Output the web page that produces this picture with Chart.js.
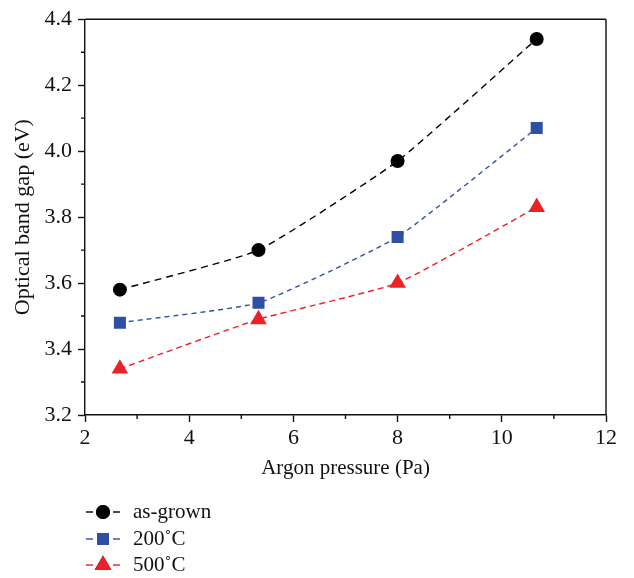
<!DOCTYPE html>
<html>
<head>
<meta charset="utf-8">
<script src="https://cdn.jsdelivr.net/npm/chart.js@4/dist/chart.umd.min.js"></script>
<style>
  html, body { margin: 0; padding: 0; background: #fff; }
  canvas { display: block; }
</style>
</head>
<body>
<canvas id="c" width="634" height="578"></canvas>
<script>
// Argon pressure (Pa) and optical band gap (eV)
const pressure = [2.67, 5.33, 8.0, 10.67];
const asGrown  = [3.58, 3.70, 3.97, 4.34];
const anneal200 = [3.48, 3.54, 3.74, 4.07];
const anneal500 = [3.34, 3.49, 3.60, 3.83];
const seriesNames = ['as-grown', '200\u02DAC', '500\u02DAC'];
const xTicks = [2, 4, 6, 8, 10, 12];
const yTicks = [3.2, 3.4, 3.6, 3.8, 4.0, 4.2, 4.4];

const FONT = "'Liberation Serif', 'DejaVu Serif', serif";
const toPoints = ys => pressure.map((x, i) => ({ x, y: ys[i] }));

// Minor ticks halfway between the major ones, top/right frame, and the legend
const extras = {
  id: 'extras',
  afterDraw(chart) {
    const { ctx, chartArea: a } = chart;
    const xs = chart.scales.x, ys = chart.scales.y;
    ctx.save();
    ctx.strokeStyle = '#111';
    ctx.lineWidth = 1.4;
    ctx.beginPath();
    // frame
    ctx.moveTo(a.left, a.top); ctx.lineTo(a.right, a.top);
    ctx.moveTo(a.right, a.top); ctx.lineTo(a.right, a.bottom);
    // minor ticks
    for (let i = 0; i < xs.ticks.length - 1; i++) {
      const v = (xs.ticks[i].value + xs.ticks[i + 1].value) / 2;
      const p = xs.getPixelForValue(v);
      ctx.moveTo(p, a.bottom); ctx.lineTo(p, a.bottom + 4);
    }
    for (let i = 0; i < ys.ticks.length - 1; i++) {
      const v = (ys.ticks[i].value + ys.ticks[i + 1].value) / 2;
      const p = ys.getPixelForValue(v);
      ctx.moveTo(a.left, p); ctx.lineTo(a.left - 4, p);
    }
    ctx.stroke();

    // legend
    const rowY = [512, 539, 565];
    chart.data.datasets.forEach((ds, i) => {
      const y = rowY[i];
      const cx = 103;
      ctx.save();
      ctx.globalAlpha = 0.7;
      ctx.strokeStyle = ds.borderColor;
      ctx.lineWidth = 2;
      ctx.beginPath();
      ctx.moveTo(86, y); ctx.lineTo(93, y);
      ctx.moveTo(113, y); ctx.lineTo(120, y);
      ctx.stroke();
      ctx.restore();
      Chart.helpers.drawPoint(ctx, {
        pointStyle: ds.pointStyle,
        radius: ds.pointRadius,
        borderWidth: 0
      }, cx, y);
      ctx.fillStyle = ds.pointBackgroundColor;
      ctx.fill();
      ctx.fillStyle = '#111';
      ctx.font = '21px ' + FONT;
      ctx.textBaseline = 'middle';
      ctx.textAlign = 'left';
      ctx.fillText(ds.label, 133, y);
    });
    ctx.restore();
  }
};

const mk = (label, ys, color, style, r, dash) => ({
  label,
  data: toPoints(ys),
  borderColor: color,
  backgroundColor: color,
  pointBackgroundColor: color,
  pointBorderColor: color,
  pointBorderWidth: 0,
  pointStyle: style,
  pointRadius: r,
  pointHoverRadius: r,
  borderWidth: 1.4,
  borderDash: dash,
  tension: 0.14,
  fill: false,
  showLine: true
});

new Chart(document.getElementById('c'), {
  type: 'line',
  data: {
    datasets: [
      mk(seriesNames[0], asGrown, '#000000', 'circle', 7, [7, 5]),
      mk(seriesNames[1], anneal200, '#2e4fa3', 'rect', 8.5, [5, 4]),
      mk(seriesNames[2], anneal500, '#ee2027', 'triangle', 9.6, [6, 4])
    ]
  },
  options: {
    responsive: false,
    animation: false,
    events: [],
    layout: { padding: { top: 15, right: 28, left: 0, bottom: 93 } },
    plugins: { legend: { display: false }, tooltip: { enabled: false } },
    scales: {
      x: {
        type: 'linear',
        min: xTicks[0],
        max: xTicks[xTicks.length - 1],
        afterBuildTicks: s => { s.ticks = xTicks.map(v => ({ value: v })); },
        afterFit: s => { s.height = 70; },
        ticks: {
          color: '#111',
          font: { family: FONT, size: 22 },
          padding: 3,
          maxRotation: 0,
          callback: v => String(v)
        },
        grid: { display: true, drawOnChartArea: false, drawTicks: true, tickLength: 7, tickColor: '#111', tickWidth: 1.4 },
        border: { display: true, color: '#111', width: 1.4 },
        title: {
          display: true,
          text: 'Argon pressure (Pa)',
          color: '#111',
          font: { family: FONT, size: 21 },
          padding: { top: 0, bottom: 4 }
        }
      },
      y: {
        type: 'linear',
        min: yTicks[0],
        max: yTicks[yTicks.length - 1],
        afterBuildTicks: s => { s.ticks = yTicks.map(v => ({ value: v })); },
        afterFit: s => { s.width = 85; },
        ticks: {
          color: '#111',
          font: { family: FONT, size: 22 },
          padding: 6,
          callback: v => Number(v).toFixed(1)
        },
        grid: { display: true, drawOnChartArea: false, drawTicks: true, tickLength: 7, tickColor: '#111', tickWidth: 1.4 },
        border: { display: true, color: '#111', width: 1.4 },
        title: {
          display: true,
          text: 'Optical band gap (eV)',
          color: '#111',
          font: { family: FONT, size: 22 },
          padding: { top: 10, bottom: 0 }
        }
      }
    }
  },
  plugins: [extras]
});
</script>
</body>
</html>
